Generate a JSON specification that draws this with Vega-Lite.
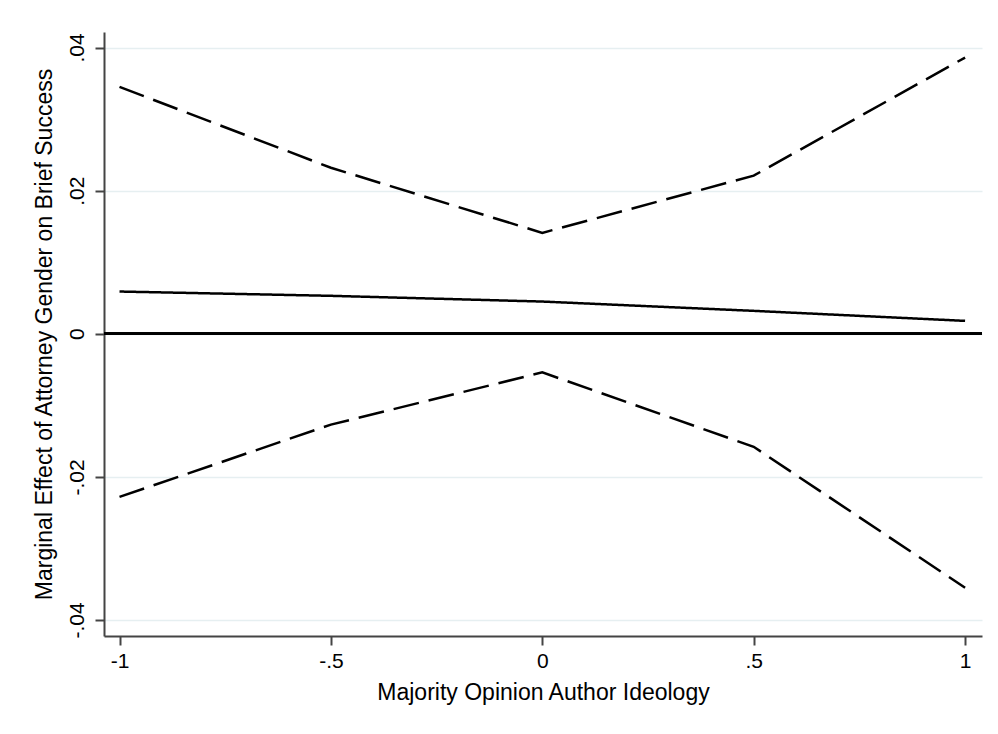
{
  "$schema": "https://vega.github.io/schema/vega-lite/v6.json",
  "width": 878,
  "height": 604,
  "autosize": {"type": "none"},
  "padding": {"left": 104, "top": 32, "right": 16, "bottom": 98},
  "background": "white",
  "config": {
    "view": {"stroke": null},
    "font": "Liberation Sans",
    "axis": {
      "domainColor": "#444444",
      "domainWidth": 2,
      "tickColor": "#444444",
      "tickWidth": 2,
      "tickSize": 9,
      "labelColor": "#000000",
      "titleColor": "#000000",
      "labelFont": "Liberation Sans",
      "titleFont": "Liberation Sans",
      "labelFontSize": 21,
      "titleFontSize": 23,
      "titleFontWeight": "normal",
      "gridColor": "#e6eff1",
      "gridWidth": 1.5
    }
  },
  "data": {
    "values": [
      {"ideology": -1, "band": "upper", "effect": 0.0345},
      {"ideology": -0.5, "band": "upper", "effect": 0.0232},
      {"ideology": 0, "band": "upper", "effect": 0.0141},
      {"ideology": 0.5, "band": "upper", "effect": 0.0221},
      {"ideology": 1, "band": "upper", "effect": 0.0386},
      {"ideology": -1, "band": "estimate", "effect": 0.0059},
      {"ideology": -0.5, "band": "estimate", "effect": 0.0053},
      {"ideology": 0, "band": "estimate", "effect": 0.0045},
      {"ideology": 0.5, "band": "estimate", "effect": 0.0032},
      {"ideology": 1, "band": "estimate", "effect": 0.0018},
      {"ideology": -1, "band": "lower", "effect": -0.0228},
      {"ideology": -0.5, "band": "lower", "effect": -0.0127},
      {"ideology": 0, "band": "lower", "effect": -0.0054},
      {"ideology": 0.5, "band": "lower", "effect": -0.0158},
      {"ideology": 1, "band": "lower", "effect": -0.0355}
    ]
  },
  "layer": [
    {
      "mark": {"type": "line", "color": "black", "strokeWidth": 2.5},
      "encoding": {
        "x": {
          "field": "ideology",
          "type": "quantitative",
          "scale": {"domain": [-1.0367, 1.04], "nice": false, "zero": false},
          "axis": {
            "title": "Majority Opinion Author Ideology",
            "values": [-1, -0.5, 0, 0.5, 1],
            "labelExpr": "replace(toString(datum.value), '0.', '.')",
            "grid": false,
            "labelPadding": 5,
            "titlePadding": 10,
            "labelFlush": false
          }
        },
        "y": {
          "field": "effect",
          "type": "quantitative",
          "scale": {"domain": [-0.04224, 0.04217], "nice": false, "zero": false},
          "axis": {
            "title": "Marginal Effect of Attorney Gender on Brief Success",
            "values": [-0.04, -0.02, 0, 0.02, 0.04],
            "labelExpr": "replace(toString(datum.value), '0.', '.')",
            "grid": true,
            "labelAngle": -90,
            "labelAlign": "center",
            "labelBaseline": "bottom",
            "labelPadding": 8,
            "titlePadding": 10,
            "labelFlush": false
          }
        },
        "detail": {"field": "band"},
        "strokeDash": {
          "field": "band",
          "type": "nominal",
          "scale": {"domain": ["estimate", "upper", "lower"], "range": [[1, 0], [26, 10], [26, 10]]},
          "legend": null
        }
      }
    },
    {
      "mark": {"type": "rule", "color": "black", "strokeWidth": 2},
      "encoding": {"y": {"datum": 0, "type": "quantitative"}}
    }
  ]
}
